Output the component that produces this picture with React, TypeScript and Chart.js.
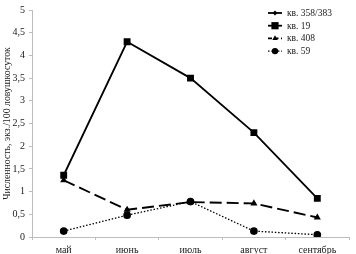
import React, { useEffect, useRef } from "react";
import { Chart, registerables } from "chart.js";

Chart.register(...registerables);

const categories = ["май", "июнь", "июль", "август", "сентябрь"];
const seriesNames = ["кв. 358/383", "кв. 19", "кв. 408", "кв. 59"];
const kv358: (number | null)[] = [null, null, null, null, null];
const kv19 = [1.36, 4.3, 3.5, 2.3, 0.85];
const kv408 = [1.25, 0.6, 0.77, 0.74, 0.43];
const kv59 = [0.13, 0.48, 0.78, 0.13, 0.05];
const yTicks = ["0", "0,5", "1", "1,5", "2", "2,5", "3", "3,5", "4", "4,5", "5"];
const yTitle = "Численность, экз./100 ловушкосуток";

const FONT = "'Liberation Serif', 'Times New Roman', serif";

const legendPlugin = {
  id: "insideLegend",
  afterDraw(chart: any) {
    const ctx = chart.ctx;
    const x0 = 268;
    const y0 = 13;
    const rowH = 12.7;
    chart.data.datasets.forEach((ds: any, i: number) => {
      const y = y0 + i * rowH;
      ctx.save();
      ctx.strokeStyle = "#000";
      ctx.lineWidth = ds.borderWidth;
      ctx.setLineDash(ds.legendDash || []);
      ctx.beginPath();
      ctx.moveTo(x0, y);
      ctx.lineTo(x0 + 14, y);
      ctx.stroke();
      ctx.setLineDash([]);
      ctx.fillStyle = "#000";
      const r = ds.pointRadius;
      const cx = x0 + 7;
      if (ds.pointStyle === "rect") {
        ctx.fillRect(cx - r, y - r, 2 * r, 2 * r);
      } else if (ds.pointStyle === "circle") {
        ctx.beginPath();
        ctx.arc(cx, y, r, 0, Math.PI * 2);
        ctx.fill();
      } else if (ds.pointStyle === "triangle") {
        ctx.beginPath();
        ctx.moveTo(cx, y - r - 1);
        ctx.lineTo(cx + r + 0.5, y + r - 0.5);
        ctx.lineTo(cx - r - 0.5, y + r - 0.5);
        ctx.closePath();
        ctx.fill();
      } else {
        ctx.beginPath();
        ctx.moveTo(cx, y - r);
        ctx.lineTo(cx + r, y);
        ctx.lineTo(cx, y + r);
        ctx.lineTo(cx - r, y);
        ctx.closePath();
        ctx.fill();
      }
      ctx.font = `9.5px ${FONT}`;
      ctx.textBaseline = "middle";
      ctx.textAlign = "left";
      ctx.fillStyle = "#222";
      ctx.fillText(ds.label, x0 + 19, y + 0.5);
      ctx.restore();
    });
  },
};

export default function App() {
  const ref = useRef<HTMLCanvasElement | null>(null);
  useEffect(() => {
    document.body.style.margin = "0";
    const chart = new Chart(ref.current as HTMLCanvasElement, {
      type: "line",
      data: {
        labels: categories,
        datasets: [
          {
            label: seriesNames[0],
            data: kv358,
            borderColor: "#000",
            backgroundColor: "#000",
            borderWidth: 1.8,
            pointStyle: "rectRot",
            pointRadius: 2.5,
            legendDash: [],
          } as any,
          {
            label: seriesNames[1],
            data: kv19,
            borderColor: "#000",
            backgroundColor: "#000",
            borderWidth: 1.8,
            pointStyle: "rect",
            pointRadius: 3.6,
            legendDash: [],
          },
          {
            label: seriesNames[2],
            data: kv408,
            borderColor: "#000",
            backgroundColor: "#000",
            borderWidth: 1.9,
            borderDash: [12, 5],
            pointStyle: "triangle",
            pointRadius: 2.2,
            legendDash: [4, 2.5],
          },
          {
            label: seriesNames[3],
            data: kv59,
            borderColor: "#000",
            backgroundColor: "#000",
            borderWidth: 1.3,
            borderDash: [1.5, 1.8],
            pointStyle: "circle",
            pointRadius: 3.2,
            legendDash: [1.5, 1.8],
          },
        ],
      },
      options: {
        animation: false,
        responsive: false,
        devicePixelRatio: 1,
        layout: { padding: { top: 8, right: 7, left: 0, bottom: 0 } },
        plugins: { legend: { display: false }, tooltip: { enabled: false } },
        elements: { line: { tension: 0 } },
        scales: {
          x: {
            offset: true,
            grid: {
              display: true,
              drawOnChartArea: false,
              drawTicks: true,
              tickLength: 3,
              offset: true,
              color: "#bdbdbd",
            },
            border: { color: "#bdbdbd" },
            ticks: { color: "#222", font: { family: FONT, size: 10 }, padding: 4, maxRotation: 0 },
            afterFit: (s: any) => {
              s.height = 17;
            },
          },
          y: {
            min: 0,
            max: 5,
            grid: { display: true, drawOnChartArea: false, tickLength: 3, color: "#bdbdbd" },
            border: { color: "#bdbdbd" },
            ticks: {
              stepSize: 0.5,
              color: "#222",
              font: { family: FONT, size: 10 },
              padding: 4,
              callback: (_v: any, i: number) => yTicks[i],
            },
            title: {
              display: true,
              text: yTitle,
              color: "#222",
              font: { family: FONT, size: 9.8 },
              padding: { top: 2, bottom: 0 },
            },
            afterFit: (s: any) => {
              s.width = 32;
            },
          },
        },
      } as any,
      plugins: [legendPlugin],
    });
    return () => chart.destroy();
  }, []);
  return (
    <div style={{ width: 356, height: 254, background: "#fff" }}>
      <canvas ref={ref} width={356} height={254} style={{ display: "block" }} />
    </div>
  );
}
